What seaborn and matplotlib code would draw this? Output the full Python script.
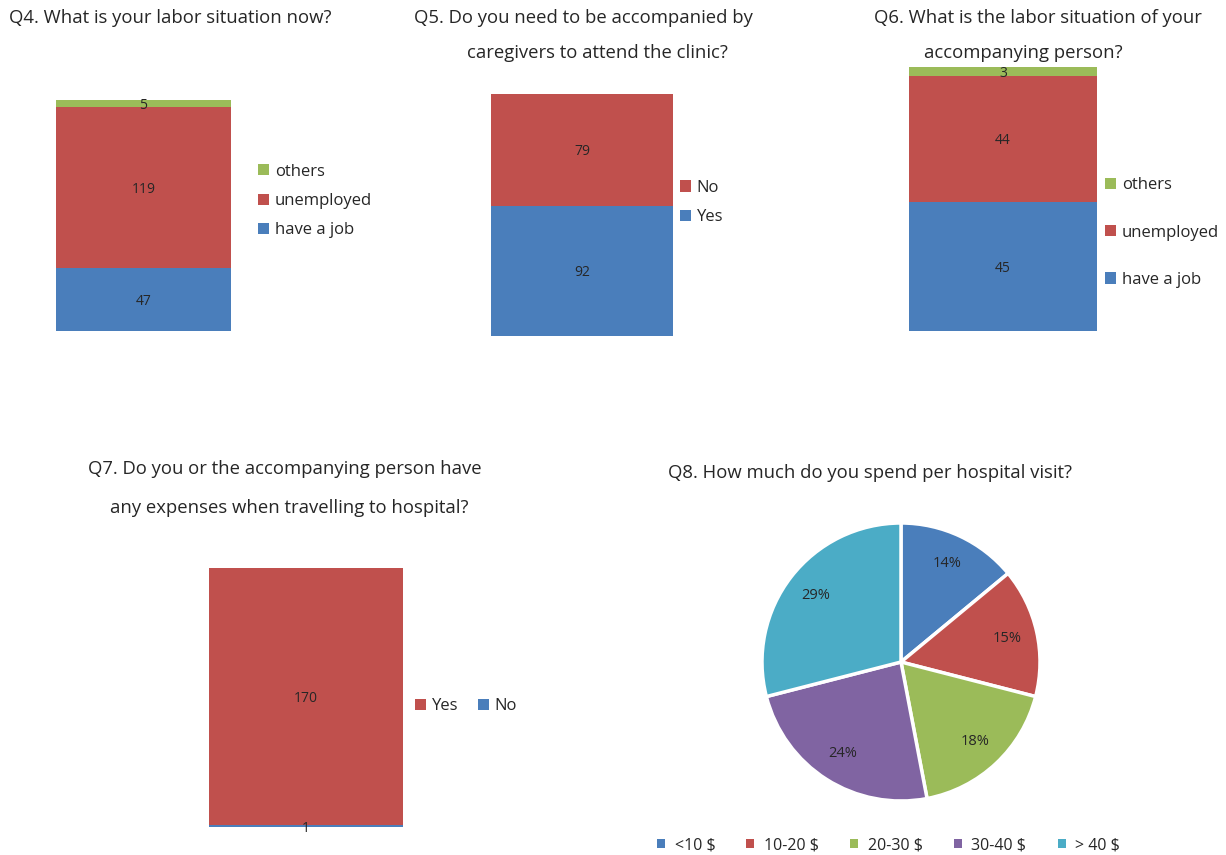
import matplotlib
matplotlib.use("Agg")
import matplotlib.pyplot as plt
import seaborn as sns
from matplotlib.patches import Patch

sns.set_theme(style="white")
plt.rcParams['font.family'] = ['Open Sans', 'DejaVu Sans']

# ---------------- data ----------------
q4_labels = ["have a job", "unemployed", "others"]
q4_values = [47, 119, 5]

q5_labels = ["Yes", "No"]
q5_values = [92, 79]

q6_labels = ["have a job", "unemployed", "others"]
q6_values = [45, 44, 3]

q7_labels = ["No", "Yes"]
q7_values = [1, 170]

q8_labels = ["<10 $", "10-20 $", "20-30 $", "30-40 $", "> 40 $"]
q8_values = [14, 15, 18, 24, 29]

BLUE, RED, GREEN, PURPLE, CYAN = "#4A7EBB", "#C0504D", "#9BBB59", "#8064A2", "#4BACC6"
TXT = "#262626"
TFS = 13.3

W, H = 1226, 855
fig = plt.figure(figsize=(W / 100, H / 100), dpi=100)


def fx(x):
    return x / W


def fy(y):
    return 1 - y / H


def ax_px(l, t, r, b):
    return fig.add_axes([l / W, 1 - b / H, (r - l) / W, (b - t) / H])


def stacked(ax, labels, values, colors):
    bottom = 0
    for lab, v, c in zip(labels, values, colors):
        sns.barplot(x=[0], y=[v], bottom=bottom, color=c, width=1.0,
                    saturation=1, ax=ax, linewidth=0)
        ax.text(0, bottom + v / 2, str(v), ha="center", va="center_baseline",
                fontsize=10, color=TXT)
        bottom += v
    ax.set_xlim(-0.5, 0.5)
    ax.set_ylim(0, bottom)
    ax.axis("off")


def vlegend(labels, colors, x, y, spacing):
    handles = [Patch(facecolor=c, edgecolor="none", label=l)
               for l, c in zip(labels, colors)]
    fig.legend(handles=handles[::-1], loc="center left",
               bbox_to_anchor=(fx(x), fy(y)), frameon=False, borderpad=0,
               borderaxespad=0, handlelength=0.65, handleheight=0.65,
               handletextpad=0.35, labelspacing=spacing, fontsize=12,
               labelcolor=TXT)


# Q4
ax4 = ax_px(56, 100, 231, 331)
stacked(ax4, q4_labels, q4_values, [BLUE, RED, GREEN])
fig.text(fx(170), fy(18), "Q4. What is your labor situation now?",
         ha="center", va="center", fontsize=TFS, color=TXT)
vlegend(q4_labels, [BLUE, RED, GREEN], 258, 201, 0.8)

# Q5
ax5 = ax_px(491, 94, 673, 336)
stacked(ax5, q5_labels, q5_values, [BLUE, RED])
fig.text(fx(583), fy(18), "Q5. Do you need to be accompanied by",
         ha="center", va="center", fontsize=TFS, color=TXT)
fig.text(fx(597), fy(53), "caregivers to attend the clinic?",
         ha="center", va="center", fontsize=TFS, color=TXT)
vlegend(q5_labels, [BLUE, RED], 680, 202.5, 0.8)

# Q6
ax6 = ax_px(909, 67, 1097, 331)
stacked(ax6, q6_labels, q6_values, [BLUE, RED, GREEN])
fig.text(fx(1038), fy(18), "Q6. What is the labor situation of your",
         ha="center", va="center", fontsize=TFS, color=TXT)
fig.text(fx(1023), fy(53), "accompanying person?",
         ha="center", va="center", fontsize=TFS, color=TXT)
vlegend(q6_labels, [BLUE, RED, GREEN], 1105, 232.5, 1.88)

# Q7
ax7 = ax_px(209, 568, 403, 827)
stacked(ax7, q7_labels, q7_values, [BLUE, RED])
fig.text(fx(285), fy(469), "Q7. Do you or the accompanying person have",
         ha="center", va="center", fontsize=TFS, color=TXT)
fig.text(fx(289), fy(508), "any expenses when travelling to hospital?",
         ha="center", va="center", fontsize=TFS, color=TXT)
h7 = [Patch(facecolor=RED, edgecolor="none", label=q7_labels[1]),
      Patch(facecolor=BLUE, edgecolor="none", label=q7_labels[0])]
fig.legend(handles=h7, loc="center left", bbox_to_anchor=(fx(415), fy(706)),
           ncol=2, frameon=False, borderpad=0, borderaxespad=0,
           handlelength=0.65, handleheight=0.65, handletextpad=0.35,
           columnspacing=1.2, fontsize=12, labelcolor=TXT)

# Q8 pie
ax8 = ax_px(762, 523, 1040, 801)
wedges, texts, autotexts = ax8.pie(
    q8_values, colors=[BLUE, RED, GREEN, PURPLE, CYAN], startangle=90,
    counterclock=False, autopct="%.0f%%", pctdistance=0.78,
    wedgeprops=dict(edgecolor="white", linewidth=2.5),
    textprops=dict(color=TXT, fontsize=10.5))
ax8.set_xlim(-1, 1)
ax8.set_ylim(-1, 1)
ax8.set_aspect("equal")
fig.text(fx(870), fy(473), "Q8. How much do you spend per hospital visit?",
         ha="center", va="center", fontsize=TFS, color=TXT)
h8 = [Patch(facecolor=c, edgecolor="none", label=l)
      for l, c in zip(q8_labels, [BLUE, RED, GREEN, PURPLE, CYAN])]
fig.legend(handles=h8, loc="center left", bbox_to_anchor=(fx(657), fy(845)),
           ncol=5, frameon=False, borderpad=0, borderaxespad=0,
           handlelength=0.5, handleheight=0.5, handletextpad=0.6,
           columnspacing=1.95, fontsize=11.5, labelcolor=TXT)

fig.savefig("out.png", dpi=100)
